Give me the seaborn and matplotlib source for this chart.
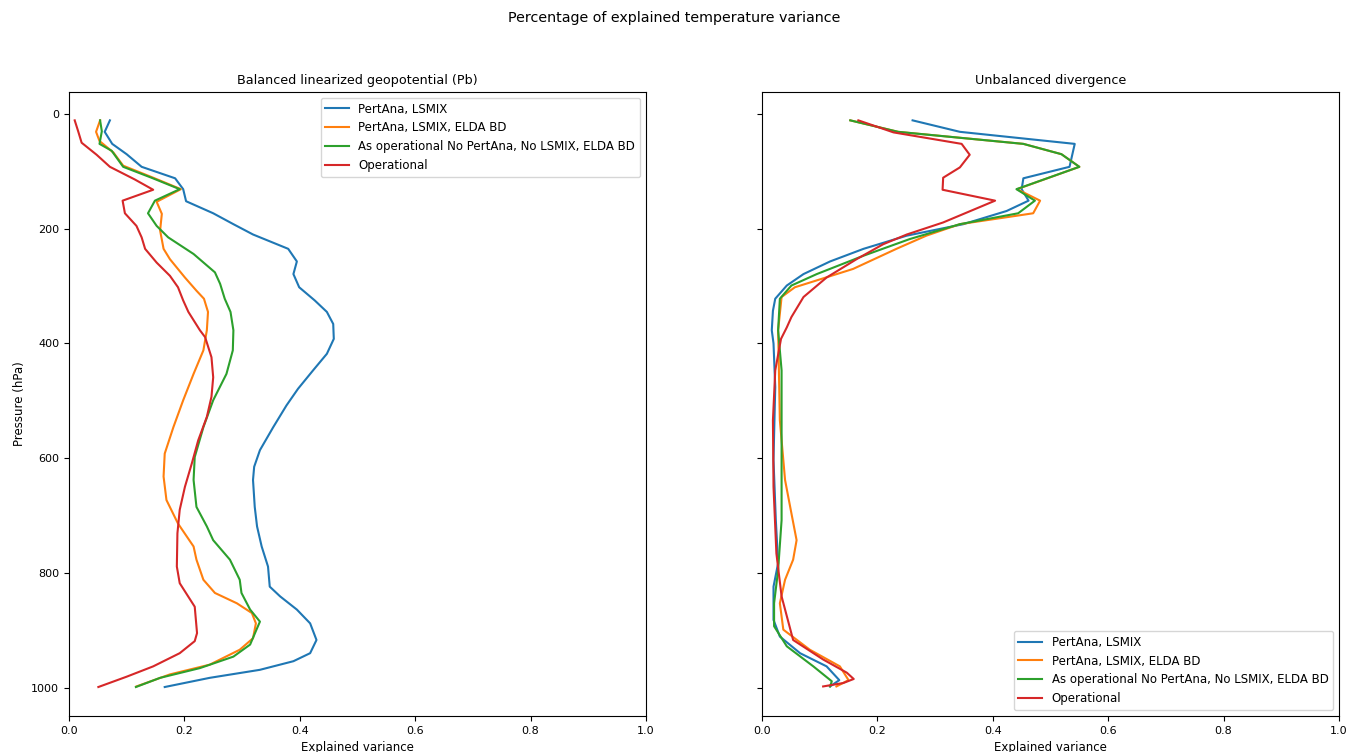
#!/usr/bin/env python3
"""Explained temperature variance profiles."""

import matplotlib
matplotlib.use("Agg")
import matplotlib.pyplot as plt
import seaborn as sns

series_names = [
    "PertAna, LSMIX",
    "PertAna, LSMIX, ELDA BD",
    "As operational No PertAna, No LSMIX, ELDA BD",
    "Operational",
]

# balanced linearized geopotential (Pb)
bal_p_pertana = [11, 31, 52, 70, 92, 112, 131, 152, 173, 192, 210, 235, 257, 279, 302, 325, 345, 366, 392, 418,
                 447, 479, 508, 546, 586, 615, 638, 685, 719, 754, 789, 824, 841, 864, 888, 917, 940, 954, 969, 983, 999]
bal_x_pertana = [.071, .062, .075, .100, .126, .184, .198, .203, .250, .285, .319, .380, .395, .389, .399, .426, .447,
                 .458, .459, .447, .423, .397, .377, .354, .331, .321, .319, .322, .326, .334, .345, .348, .366, .395,
                 .418, .429, .418, .389, .331, .244, .166]
bal_p_elda = [11, 31, 47, 67, 90, 111, 131, 153, 174, 203, 235, 253, 285, 308, 322, 345, 377, 412, 453, 499, 546,
              592, 632, 673, 714, 754, 777, 812, 835, 853, 870, 888, 914, 934, 960, 977, 998]
bal_x_elda = [.054, .047, .053, .077, .094, .146, .194, .152, .161, .158, .164, .175, .201, .221, .234, .241, .239,
              .233, .216, .198, .181, .166, .164, .169, .189, .216, .221, .233, .253, .291, .317, .324, .319, .296,
              .244, .175, .117]
bal_p_asop = [11, 30, 52, 64, 92, 111, 131, 151, 173, 195, 215, 244, 276, 296, 322, 345, 377, 412, 453, 499, 546,
              598, 638, 685, 719, 743, 777, 812, 835, 864, 885, 899, 925, 946, 966, 983, 999]
bal_x_asop = [.054, .057, .053, .074, .094, .143, .192, .149, .137, .152, .172, .216, .253, .262, .270, .280, .285,
              .284, .273, .250, .233, .218, .216, .221, .239, .250, .279, .296, .299, .314, .331, .325, .314, .285,
              .227, .158, .116]
bal_p_oper = [11, 30, 50, 71, 92, 114, 132, 151, 173, 195, 215, 235, 259, 282, 302, 325, 345, 377, 389, 424, 459,
              493, 528, 569, 609, 650, 690, 731, 789, 818, 859, 905, 919, 940, 963, 981, 999]
bal_x_oper = [.010, .016, .022, .048, .071, .114, .146, .093, .097, .117, .126, .132, .152, .175, .189, .198, .207,
              .227, .236, .247, .250, .247, .239, .224, .213, .201, .192, .188, .187, .192, .218, .222, .218, .192,
              .146, .100, .051]

# unbalanced divergence
div_p_pertana = [11, 31, 52, 92, 112, 131, 151, 169, 192, 212, 235, 257, 279, 299, 322, 343, 377, 400, 476, 603,
                 708, 783, 824, 882, 911, 940, 963, 987, 998]
div_x_pertana = [.261, .343, .542, .533, .453, .450, .462, .424, .349, .251, .176, .118, .072, .043, .023, .019,
                 .017, .020, .023, .020, .024, .028, .020, .020, .031, .066, .112, .134, .118]
div_p_elda = [11, 31, 52, 70, 92, 131, 151, 173, 192, 212, 235, 270, 290, 302, 319, 377, 534, 638, 696, 743, 777,
              812, 853, 899, 934, 963, 987, 998]
div_x_elda = [.153, .236, .453, .519, .550, .442, .482, .470, .343, .285, .233, .158, .095, .057, .034, .028, .031,
              .040, .051, .060, .054, .040, .031, .037, .083, .135, .150, .129]
div_p_asop = [11, 31, 52, 70, 92, 131, 151, 173, 192, 218, 247, 279, 299, 322, 377, 447, 534, 708, 795, 853, 893,
              928, 963, 989, 998]
div_x_asop = [.153, .236, .453, .519, .550, .441, .473, .444, .343, .256, .176, .095, .051, .031, .028, .034, .034,
              .034, .028, .021, .021, .043, .089, .121, .118]
div_p_oper = [11, 32, 52, 71, 93, 111, 132, 151, 189, 210, 227, 253, 285, 319, 354, 372, 392, 447, 534, 650, 766,
              841, 917, 951, 974, 985, 992, 998]
div_x_oper = [.167, .228, .346, .360, .343, .314, .313, .404, .314, .251, .210, .164, .112, .072, .051, .043, .033,
              .023, .019, .020, .025, .034, .054, .106, .147, .159, .141, .106]


def main() -> int:
    colors = sns.color_palette("tab10", 4)
    fs = 8.5

    fig, axes = plt.subplots(1, 2, figsize=(13.49, 7.52), dpi=100, sharey=True)
    fig.subplots_adjust(left=0.0511, right=0.9926, top=0.8777, bottom=0.0479, wspace=0.201)

    panels = [
        ("Balanced linearized geopotential (Pb)",
         [(bal_p_pertana, bal_x_pertana), (bal_p_elda, bal_x_elda), (bal_p_asop, bal_x_asop),
          (bal_p_oper, bal_x_oper)], "upper right"),
        ("Unbalanced divergence",
         [(div_p_pertana, div_x_pertana), (div_p_elda, div_x_elda), (div_p_asop, div_x_asop),
          (div_p_oper, div_x_oper)], "lower right"),
    ]

    for ax, (title, curves, loc) in zip(axes, panels):
        for (p, x), name, c in zip(curves, series_names, colors):
            sns.lineplot(x=x, y=p, sort=False, estimator=None, color=c, linewidth=1.5, label=name, ax=ax)
        ax.set_xlim(0, 1)
        ax.set_title(title, fontsize=9.2)
        ax.set_xlabel("Explained variance", fontsize=fs)
        ax.tick_params(labelsize=8)
        ax.legend(loc=loc, fontsize=fs)

    axes[0].set_ylabel("Pressure (hPa)", fontsize=fs)
    axes[0].set_ylim(1049.5, -38.5)
    axes[0].set_yticks([0, 200, 400, 600, 800, 1000])
    fig.suptitle("Percentage of explained temperature variance", fontsize=10.3, y=0.985)

    fig.savefig("out.png", dpi=100)
    plt.close(fig)
    return 0


if __name__ == "__main__":
    raise SystemExit(main())
